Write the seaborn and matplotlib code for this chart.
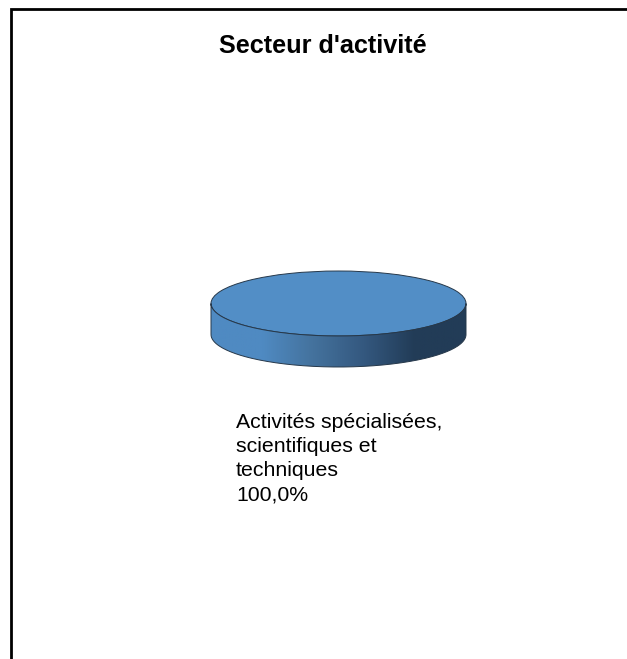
import numpy as np
import matplotlib
matplotlib.use('Agg')
import matplotlib.pyplot as plt
import seaborn as sns
from matplotlib.colors import LinearSegmentedColormap
from matplotlib.patches import PathPatch
from matplotlib.path import Path

# Data
sectors = ["Activités spécialisées,\nscientifiques et\ntechniques"]
shares = [100.0]
title = "Secteur d'activité"

sns.set_theme(style='white')
plt.rcParams['font.family'] = ['Liberation Sans', 'DejaVu Sans']

W, H = 627, 659
cx, cy, rx, ry, depth = 338.5, 303.5, 127.5, 32.5, 31

fig = plt.figure(figsize=(W / 100, H / 100), dpi=100, facecolor='white')

# frame, text layer in pixel coordinates
bg = fig.add_axes([0, 0, 1, 1])
bg.set_xlim(0, W)
bg.set_ylim(H, 0)
bg.axis('off')
bg.plot([11, 11, W], [H, 9, 9], color='black', lw=2, solid_joinstyle='miter', clip_on=False)
bg.text(323, 53, title, ha='center', va='baseline', fontsize=18.2, fontweight='bold', color='black')
bg.text(236, 412.5, sectors[0] + "\n" + f"{shares[0]:.1f}%".replace('.', ','),
        ha='left', va='top', fontsize=15.3, color='black', linespacing=1.36)

# pie axes: 1 unit = rx horizontally, ry vertically
pad = 1.25
left = cx - pad * rx
bottom_units = pad + depth / ry
ax = fig.add_axes([left / W, 1 - (cy + bottom_units * ry) / H,
                   2 * pad * rx / W, (pad + bottom_units) * ry / H])
ax.pie(shares, colors=['#528ec6'], radius=1, startangle=90,
       wedgeprops={'edgecolor': '#26384a', 'linewidth': 0.7}, normalize=True)

# side wall of the disc, gradient clipped to the lower half of the ellipse
t = np.linspace(np.pi, 2 * np.pi, 200)
d = depth / ry
xs = np.cos(t)
ys = np.sin(t)
verts = np.vstack([np.column_stack([xs, ys - d]), np.column_stack([xs[::-1], ys[::-1]])])
verts = np.vstack([verts, verts[0]])
side = PathPatch(Path(verts), facecolor='none', edgecolor='#26384a', lw=0.7, zorder=3)
ax.add_patch(side)
cmap = LinearSegmentedColormap.from_list('side', sns.blend_palette(
    ['#4f8ac2', '#4f8ac2', '#44729d', '#34587f', '#223c57', '#223c57'], 6))
im = ax.imshow(np.linspace(0, 1, 256).reshape(1, -1), cmap=cmap, aspect='auto',
               extent=[-1, 1, -1 - d, 0], zorder=1)
im.set_clip_path(side)
ax.set_aspect('auto')
ax.set_xlim(-pad, pad)
ax.set_ylim(-bottom_units, pad)

fig.savefig('out.png', dpi=100, facecolor='white')
